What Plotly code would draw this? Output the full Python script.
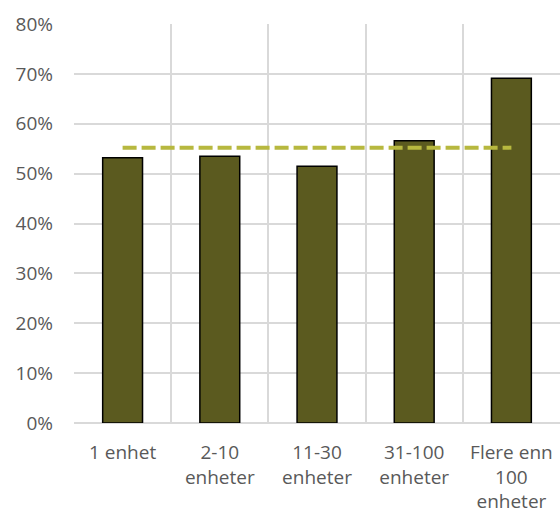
import plotly.graph_objects as go

# Share per size group
categories = ["1 enhet", "2-10<br>enheter", "11-30<br>enheter", "31-100<br>enheter", "Flere enn<br>100<br>enheter"]
shares = [53.2, 53.5, 51.5, 56.6, 69.1]
overall_avg = 55.2
avg_line = [overall_avg] * len(categories)

y_ticks = [0, 10, 20, 30, 40, 50, 60, 70, 80]
y_labels = [f"{v}%" for v in y_ticks]

font_family = "Open Sans, sans-serif"
text_grey = "#595959"
grid_grey = "#D9D9D9"

fig = go.Figure()
fig.add_trace(go.Bar(
    x=categories, y=shares,
    marker=dict(color="#5B5A1F", line=dict(color="#000000", width=1.5)),
    width=0.41,
    hoverinfo="x+y",
))
fig.add_trace(go.Scatter(
    x=categories, y=avg_line, mode="lines",
    line=dict(color="#B7B83F", width=4, dash="14px,5px"),
))

fig.update_layout(
    width=560, height=521,
    margin=dict(l=74, r=0, t=24, b=98),
    paper_bgcolor="white", plot_bgcolor="white",
    showlegend=False,
    font=dict(family=font_family, size=19, color=text_grey),
    xaxis=dict(
        type="category", tickson="boundaries",
        showgrid=True, gridcolor=grid_grey, gridwidth=1.5,
        ticks="", showline=False, zeroline=False,
        range=[-0.5, 4.5], ticklabelstandoff=16,
        tickfont=dict(size=19, color=text_grey),
    ),
    yaxis=dict(
        range=[0, 80], tickvals=y_ticks, ticktext=y_labels,
        showgrid=True, gridcolor=grid_grey, gridwidth=1.5,
        zeroline=True, zerolinecolor=grid_grey, zerolinewidth=1.5,
        ticks="", showline=False, ticklabelstandoff=20,
        tickfont=dict(size=19, color=text_grey),
    ),
)

fig.write_html("out.html")
